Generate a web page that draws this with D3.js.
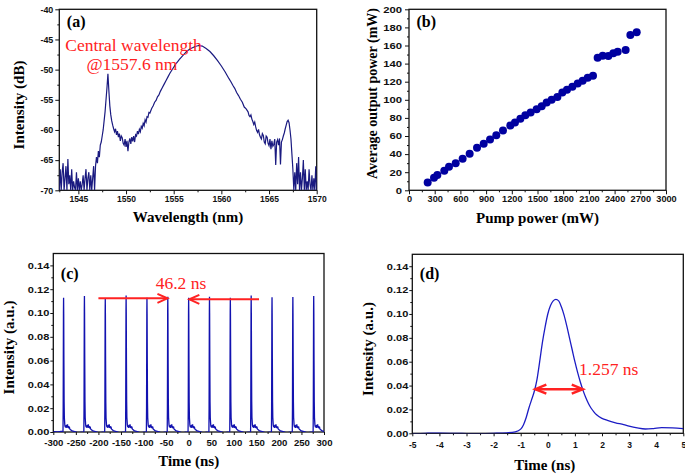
<!DOCTYPE html>
<html><head><meta charset="utf-8">
<script src="https://cdn.jsdelivr.net/npm/d3@7/dist/d3.min.js"></script>
<style>
html,body{margin:0;padding:0;background:#fff;}
svg{display:block;font-family:"Liberation Serif","Times New Roman",serif;}
</style></head>
<body><svg id="c" width="685" height="476"></svg>
<script>
// ---------- DATA ----------
// (a) optical spectrum [wavelength nm, intensity dB]
const spectrum = [
[1543.0,-70],[1543.1,-66.5],[1543.2,-70],[1543.3,-67],[1543.4,-65.5],[1543.5,-70],[1543.6,-68],[1543.7,-66],[1543.8,-70],[1543.9,-64.8],
[1544.0,-69],[1544.1,-67.5],[1544.2,-70],[1544.3,-66.5],[1544.4,-70],[1544.5,-68.5],[1544.6,-69.5],[1544.7,-70],[1544.8,-67],[1544.9,-70],
[1545.0,-68],[1545.1,-70],[1545.2,-68.5],[1545.3,-70],[1545.4,-69],[1545.5,-67.5],[1545.6,-70],[1545.7,-68],[1545.8,-66.5],[1545.9,-70],
[1546.0,-68],[1546.1,-67],[1546.2,-70],[1546.3,-67.5],[1546.4,-70],[1546.5,-68],[1546.6,-66],[1546.7,-70],[1546.8,-66],[1546.9,-64.5],
[1547.0,-65.5],[1547.1,-63.5],[1547.2,-64.5],[1547.3,-62.5],[1547.4,-62],[1547.5,-61],[1547.6,-60],[1547.7,-58.5],[1547.8,-57],[1547.9,-55],
[1548.0,-53],[1548.1,-50.7],[1548.2,-53.5],[1548.3,-56],[1548.4,-57.5],[1548.5,-58.5],[1548.6,-59.2],[1548.7,-59.8],[1548.8,-60.3],[1548.9,-59.8],
[1549.0,-60.8],[1549.1,-60.2],[1549.2,-61.2],[1549.3,-60.6],[1549.4,-61.8],[1549.5,-61.0],[1549.6,-61.3],[1549.7,-62.2],[1549.8,-62.5],[1549.9,-61.5],
[1550.0,-62.8],[1550.1,-61.8],[1550.2,-63.5],[1550.3,-62],[1550.4,-61.4],[1550.5,-62.3],[1550.6,-61.2],[1550.7,-61.9],[1550.8,-61.0],[1550.9,-62],
[1551.0,-60.8],[1551.1,-61],[1551.2,-60.2],[1551.3,-60.7],[1551.4,-59.9],[1551.5,-60.3],[1551.6,-59.4],[1551.7,-59.7],[1551.8,-58.9],[1551.9,-59.3],
[1552.0,-58.3],[1552.1,-58.7],[1552.2,-57.8],[1552.3,-57.9],[1552.4,-57.1],[1552.5,-57.2],[1552.7,-56.4],[1552.85,-56.0],[1553.0,-55.4],[1553.15,-55.1],
[1553.3,-54.5],[1553.45,-54.2],[1553.6,-53.6],[1553.8,-53.0],[1554.0,-52.4],[1554.2,-51.8],[1554.4,-51.2],[1554.6,-50.6],[1554.8,-50.1],[1555.0,-49.6],
[1555.2,-49.1],[1555.4,-48.7],[1555.6,-48.3],[1556.0,-47.6],[1556.4,-46.9],[1556.8,-46.5],[1557.2,-46.2],[1557.6,-46.0],[1558.0,-46.1],[1558.4,-46.5],
[1558.8,-47.0],[1559.2,-47.7],[1559.6,-48.5],[1560.0,-49.4],[1560.4,-50.4],[1560.8,-51.5],[1561.0,-52.0],[1561.2,-52.6],[1561.4,-53.1],[1561.6,-53.8],
[1561.8,-54.3],[1562.0,-54.9],[1562.2,-55.4],[1562.4,-56.2],[1562.6,-56.5],[1562.8,-57.0],[1562.9,-57.6],[1563.0,-57.8],[1563.1,-57.5],[1563.2,-58.2],
[1563.3,-58.6],[1563.4,-59.1],[1563.5,-58.7],[1563.6,-59.5],[1563.7,-60.1],[1563.8,-60.4],[1563.9,-59.9],[1564.0,-60.8],[1564.1,-61.2],[1564.2,-61.5],
[1564.3,-60.6],[1564.4,-60.9],[1564.5,-62.0],[1564.6,-62.3],[1564.7,-61.0],[1564.8,-61.2],[1564.9,-62.2],[1565.0,-62.6],[1565.1,-61.5],[1565.2,-63.2],
[1565.3,-61.8],[1565.4,-62.7],[1565.5,-62.4],[1565.6,-61.5],[1565.7,-65.8],[1565.8,-62],[1565.9,-61.6],[1566.0,-62.5],[1566.1,-61.4],[1566.2,-65.7],
[1566.3,-62],[1566.4,-61.6],[1566.5,-61],[1566.6,-60.5],[1566.7,-59.8],[1566.8,-59.2],[1566.9,-58.6],[1567.0,-58.4],[1567.1,-58.8],[1567.2,-60.0],
[1567.3,-61.5],[1567.4,-64],[1567.5,-66.5],[1567.6,-70],[1567.7,-67],[1567.8,-70],[1567.9,-65.5],[1568.0,-69],[1568.1,-64.5],[1568.2,-70],
[1568.3,-67],[1568.4,-70],[1568.5,-68],[1568.6,-65],[1568.7,-70],[1568.8,-66.5],[1568.9,-70],[1569.0,-68.5],[1569.1,-70],[1569.2,-66.5],
[1569.3,-69],[1569.4,-70],[1569.5,-67.5],[1569.6,-70],[1569.7,-68],[1569.8,-70],[1569.9,-66],[1570.0,-70]
];
const aXTicks = [1545,1550,1555,1560,1565,1570];
const aYTicks = [-70,-65,-60,-55,-50,-45,-40];

// (b) output power vs pump power
const pumpPower   = [218,292,331,412,467,545,626,708,794,872,946,1019,1097,1183,1237,1300,1358,1420,1490,1549,1607,1665,1732,1790,1844,1907,1969,2027,2086,2148,2202,2261,2327,2385,2436,2529,2584,2658];
const outputPower = [8.5,14,17,21.7,26,30,35,40.5,47,51.5,56,60.8,66,71.5,75,79,83,86,89.5,93,97,100,103,108,111,114.5,118,121,124.5,126.7,146.6,148.8,148.4,151.4,153.2,155,171.6,174.6];
const bXTicks = [0,300,600,900,1200,1500,1800,2100,2400,2700,3000];
const bYTicks = [0,20,40,60,80,100,120,140,160,180,200];

// (c) pulse train: pulse positions (ns) and peak heights (a.u.)
const pulseTimes   = [-277.5,-231.3,-185.1,-138.9,-92.7,-46.5,-0.3,45.9,92.1,138.3,184.5,230.7,276.9];
const pulseHeights = [0.1129,0.1143,0.1120,0.1148,0.1129,0.1137,0.1129,0.1137,0.1129,0.1148,0.1132,0.1134,0.1143];
// measured single-pulse profile around each pulse: time offset (ns), intensity
const pulseOffset = [-1.0,-0.6,-0.3,0.0,0.3,0.6,1.0,1.5,2.0,3.0,4.0,5.0,6.0,7.0,8.0,9.0,10.0,11.0,12.0,13.0,14.0,16.0,18.0,21.0,25.0,30.0,35.0,40.0,44.0];
const pulseLevel  = [0.0005,0.02,0.06,0.100,0.1125,0.099,0.060,0.025,0.012,0.006,0.004,0.0055,0.0035,0.006,0.004,0.0065,0.0035,0.005,0.003,0.0045,0.0025,0.0018,0.0012,0.0008,0.0003,-0.0003,-0.0006,-0.0002,-0.0004];
const traceLeadIn = [[-300,0.0004],[-290,0.0001],[-283,0.0005]];
const cXTicks = [-300,-250,-200,-150,-100,-50,0,50,100,150,200,250,300];
const yTicksAU = [0,0.02,0.04,0.06,0.08,0.10,0.12,0.14];

// (d) single pulse
const dTime = [-5,-4.5,-4.3,-4,-3.5,-3,-2.5,-2,-1.5,-1.2,-1.0,-0.9,-0.8,-0.7,-0.6,-0.5,-0.4,-0.3,-0.2,-0.1,0,0.1,0.2,0.3,0.4,0.5,0.6,0.7,0.8,0.9,1.0,1.1,1.2,1.3,1.4,1.5,1.6,1.7,1.8,2.0,2.2,2.5,2.8,3.0,3.3,3.6,3.9,4.2,4.6,5.0];
const dIntensity = [-0.0003,0.0000,0.0002,0.0001,-0.0001,-0.0002,-0.0002,0.0000,0.0004,0.0012,0.0035,0.007,0.013,0.021,0.028,0.035,0.045,0.060,0.076,0.089,0.100,0.107,0.111,0.1122,0.1110,0.106,0.099,0.090,0.080,0.070,0.060,0.051,0.043,0.036,0.030,0.025,0.021,0.018,0.0155,0.0125,0.0108,0.0088,0.0073,0.0060,0.0045,0.0036,0.0040,0.0047,0.0046,0.0040];
const dXTicks = [-5,-4,-3,-2,-1,0,1,2,3,4,5];

// annotations
const periodArrowLeft  = {from:-200, to:-47, y:0.1123};
const periodArrowRight = {from:156, to:1.5, y:0.1115};
const fwhmArrow = {from:-0.46, to:1.29, y:0.037};

// ---------- DRAWING ----------
const svg = d3.select("#c");
const RED = "#ff2222";

function panel(o){
  const x = d3.scaleLinear().domain(o.xd).range([o.l,o.r]);
  const y = d3.scaleLinear().domain(o.yd).range([o.b,o.t]);
  const g = svg.append("g").attr("color","#111");
  svg.append("clipPath").attr("id","clip"+o.name).append("rect")
    .attr("x",o.l).attr("y",o.t).attr("width",o.r-o.l).attr("height",o.b-o.t);
  g.append("g").attr("transform",`translate(0,${o.b})`)
    .call(d3.axisBottom(x).tickValues(o.xMinor).tickSize(2).tickFormat(""))
    .call(s=>s.select(".domain").remove());
  g.append("g").attr("transform",`translate(${o.l},0)`)
    .call(d3.axisLeft(y).tickValues(o.yMinor).tickSize(2).tickFormat(""))
    .call(s=>s.select(".domain").remove());
  const xa = g.append("g").attr("transform",`translate(0,${o.b})`)
    .call(d3.axisBottom(x).tickValues(o.xTicks).tickSize(o.tick).tickFormat(o.xFmt))
    .call(s=>s.select(".domain").remove());
  xa.selectAll("text").attr("dy",null).attr("y",o.xOff)
    .attr("transform",`scale(${o.sxX},1)`)
    .style("font-size","8.5px").style("font-weight","bold").attr("fill","#111");
  const ya = g.append("g").attr("transform",`translate(${o.l},0)`)
    .call(d3.axisLeft(y).tickValues(o.yTicks).tickSize(o.tick).tickFormat(o.yFmt))
    .call(s=>s.select(".domain").remove());
  ya.selectAll("text").attr("x",-o.yGap/o.sxY).attr("dy","0.33em")
    .attr("transform",`scale(${o.sxY},1)`)
    .style("font-size","8.5px").style("font-weight","bold").attr("fill","#111");
  g.selectAll(".tick line").attr("stroke-width",1);
  g.append("rect").attr("x",o.l).attr("y",o.t).attr("width",o.r-o.l).attr("height",o.b-o.t)
    .attr("fill","none").attr("stroke","#111").attr("stroke-width",1.3);
  svg.append("text").attr("x",(o.l+o.r)/2+o.xtDx).attr("y",o.xtY).attr("text-anchor","middle")
    .style("font-size","15px").style("font-weight","bold").text(o.xTitle);
  svg.append("text").attr("transform",`translate(${o.ytX},${o.ytY}) rotate(-90)`).attr("text-anchor","middle")
    .style("font-size",o.ytSize+"px").style("font-weight","bold").text(o.yTitle);
  svg.append("text").attr("x",o.l+7.5).attr("y",o.t+o.lblDy)
    .style("font-size","16px").style("font-weight","bold").text(o.label);
  return {x,y,clip:"url(#clip"+o.name+")"};
}
function halfSteps(ticks){ const r=[]; for(let i=0;i<ticks.length-1;i++) r.push((ticks[i]+ticks[i+1])/2); return r; }
const fmtInt = d => String(d);
const fmt2 = d => d.toFixed(2);

// ---- (a)
const A = panel({name:"a",l:59.3,r:316.7,t:9.3,b:190.3,xd:[1543,1570],yd:[-70,-40],
  xTicks:aXTicks,xMinor:[1543].concat(halfSteps(aXTicks)),yTicks:aYTicks,yMinor:halfSteps(aYTicks),
  xFmt:fmtInt,yFmt:fmtInt,tick:4,xOff:12,yGap:6,sxX:1.0,sxY:1.05,
  xTitle:"Wavelength (nm)",xtDx:0,xtY:222,yTitle:"Intensity (dB)",ytX:24,ytY:105,ytSize:15,label:"(a)",lblDy:17.5});
svg.append("path").datum(spectrum).attr("clip-path",A.clip)
  .attr("d",d3.line().x(d=>A.x(d[0])).y(d=>A.y(d[1])))
  .attr("fill","none").attr("stroke","#1a1a80").attr("stroke-width",1.2);
const ann = svg.append("text").attr("fill",RED).style("font-size","17.5px").attr("text-anchor","middle");
ann.append("tspan").attr("x",133.5).attr("y",51).text("Central wavelength");
ann.append("tspan").attr("x",132).attr("y",69.5).text("@1557.6 nm");

// ---- (b)
const B = panel({name:"b",l:409,r:666,t:9.3,b:190.3,xd:[0,3000],yd:[0,200],
  xTicks:bXTicks,xMinor:halfSteps(bXTicks),yTicks:bYTicks,yMinor:halfSteps(bYTicks),
  xFmt:fmtInt,yFmt:fmtInt,tick:4,xOff:12,yGap:7,sxX:1.08,sxY:1.33,
  xTitle:"Pump power (mW)",xtDx:0,xtY:223,yTitle:"Average output power (mW)",ytX:377,ytY:93.5,ytSize:14,label:"(b)",lblDy:18});
svg.append("g").selectAll("circle").data(pumpPower.map((p,i)=>[p,outputPower[i]])).join("circle")
  .attr("cx",d=>B.x(d[0])).attr("cy",d=>B.y(d[1])).attr("r",4).attr("fill","#0000a0");

// ---- (c)
const C = panel({name:"c",l:53.3,r:324,t:253.5,b:432,xd:[-300,300],yd:[0,0.15],
  xTicks:cXTicks,xMinor:halfSteps(cXTicks),yTicks:yTicksAU,yMinor:halfSteps(yTicksAU),
  xFmt:fmtInt,yFmt:fmt2,tick:3,xOff:14.5,yGap:4,sxX:1.13,sxY:1.3,
  xTitle:"Time (ns)",xtDx:0,xtY:466,yTitle:"Intensity (a.u.)",ytX:14,ytY:347.5,ytSize:15,label:"(c)",lblDy:25.5});
const trace = traceLeadIn.slice();
pulseTimes.forEach((t0,i)=>{
  const k = pulseHeights[i]/0.1125;
  pulseOffset.forEach((o,j)=>trace.push([t0+o, pulseLevel[j]>0.01 ? pulseLevel[j]*k : pulseLevel[j]]));
});
trace.sort((a,b)=>a[0]-b[0]);
svg.append("path").datum(trace).attr("clip-path",C.clip)
  .attr("d",d3.line().x(d=>C.x(d[0])).y(d=>C.y(d[1])))
  .attr("fill","none").attr("stroke","#1212b0").attr("stroke-width",1.3);

function arrowHead(g,x,y,dir,len,half,w){
  g.append("path").attr("d",`M${x-dir*len},${y-half}L${x},${y}L${x-dir*len},${y+half}`)
    .attr("fill","none").attr("stroke",RED).attr("stroke-width",w).attr("stroke-linejoin","miter");
}
const ca = svg.append("g");
[periodArrowLeft,periodArrowRight].forEach(a=>{
  const x1=C.x(a.from), x2=C.x(a.to), yy=C.y(a.y);
  ca.append("line").attr("x1",x1).attr("x2",x2).attr("y1",yy).attr("y2",yy).attr("stroke",RED).attr("stroke-width",2);
  arrowHead(ca,x2,yy,Math.sign(x2-x1),10,4.5,2);
});
svg.append("text").attr("x",181).attr("y",289).attr("text-anchor","middle").attr("fill",RED)
  .style("font-size","17.5px").text("46.2 ns");

// ---- (d)
const D = panel({name:"d",l:412.3,r:683.3,t:254.3,b:433.3,xd:[-5,5],yd:[0,0.15],
  xTicks:dXTicks,xMinor:halfSteps(dXTicks),yTicks:yTicksAU,yMinor:halfSteps(yTicksAU),
  xFmt:fmtInt,yFmt:fmt2,tick:3,xOff:15,yGap:4,sxX:1.0,sxY:1.3,
  xTitle:"Time (ns)",xtDx:-3,xtY:470,yTitle:"Intensity (a.u.)",ytX:373,ytY:349,ytSize:15,label:"(d)",lblDy:25});
svg.append("path").datum(dTime.map((t,i)=>[t,dIntensity[i]])).attr("clip-path",D.clip)
  .attr("d",d3.line().curve(d3.curveMonotoneX).x(d=>D.x(d[0])).y(d=>D.y(d[1])))
  .attr("fill","none").attr("stroke","#1c1cc4").attr("stroke-width",1.3);
const da = svg.append("g");
{
  const x1=D.x(fwhmArrow.from), x2=D.x(fwhmArrow.to), yy=D.y(fwhmArrow.y);
  da.append("line").attr("x1",x1).attr("x2",x2).attr("y1",yy).attr("y2",yy).attr("stroke",RED).attr("stroke-width",2.5);
  arrowHead(da,x2,yy,1,11,4.5,2.5);
  arrowHead(da,x1,yy,-1,11,4.5,2.5);
}
svg.append("text").attr("x",608.7).attr("y",375).attr("text-anchor","middle").attr("fill",RED)
  .style("font-size","17.5px").text("1.257 ns");
</script></body></html>
